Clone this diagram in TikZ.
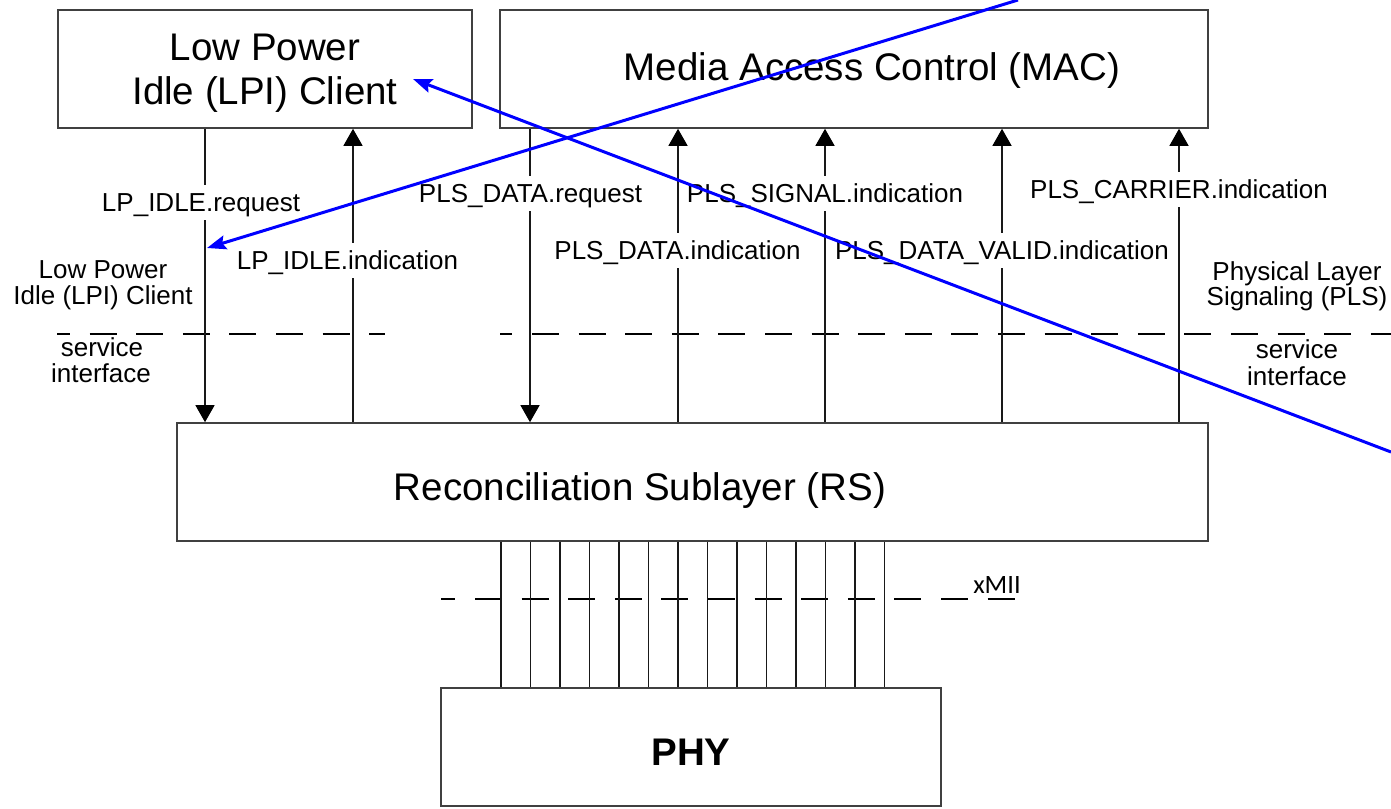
\documentclass[tikz,border=0pt]{standalone}
\usepackage{fontspec}
\setmainfont{Liberation Sans}
\newfontfamily\calfont{Carlito}
\usetikzlibrary{arrows.meta}
\begin{document}
\begin{tikzpicture}[x=1pt,y=-1pt,
  box/.style={draw=black!75,line width=1.6pt,rectangle,inner sep=0pt,minimum height=118pt},
  boxtext/.style={font=\fontsize{38.5}{44}\selectfont,align=center,inner sep=0pt},
  sig/.style={line width=1.3pt,draw=black!90},
  upsig/.style={sig,-{Triangle[width=19pt,length=17pt,color=black]}},
  downsig/.style={sig,-{Triangle[width=19pt,length=17pt,color=black]}},
  lbl/.style={font=\fontsize{26}{26.5}\selectfont,fill=white,inner xsep=3pt,inner ysep=2pt,text height=24pt,text depth=7pt,anchor=base},
  side/.style={font=\fontsize{26}{26.5}\selectfont,inner sep=0pt,anchor=base},
  ifline/.style={line width=1.3pt,black,dash pattern=on 27pt off 19.6pt},
  bluearrow/.style={draw={rgb,255:red,0;green,0;blue,255},line width=3pt,-{Stealth[length=19pt,width=14pt,inset=3pt]}}
]
\useasboundingbox (0,0) rectangle (1391,808);

% boxes
\node[box,minimum width=414pt,label={[boxtext,yshift=-4.5pt]center:Low Power\\Idle (LPI) Client}] (lpi) at (265,69) {};
\node[box,minimum width=708pt,label={[boxtext,xshift=18pt,yshift=-1.5pt]center:Media Access Control (MAC)}] (mac) at (854,69) {};
\node[box,minimum width=1031pt,label={[boxtext,xshift=-52.5pt,yshift=-9pt]center:Reconciliation Sublayer (RS)}] (rs) at (692.5,482) {};
\node[box,minimum width=500pt,label={[boxtext,font=\fontsize{38.5}{44}\selectfont\bfseries,yshift=-5pt]center:PHY}] (phy) at (691,747) {};

% service interface dashed lines
\draw[ifline,dash phase=14pt] (57,334) coordinate (dl1) -- (385,334) coordinate (dl2);
\draw[ifline,dash phase=14.6pt] (500,334) coordinate (dr1) -- (1391,334) coordinate (dr2);
\draw[ifline,dash phase=12.6pt] (441,599) coordinate (dx1) -- (1033,599) coordinate (dx2);

% x positions of the primitives
\coordinate (x1) at (205,0);
\coordinate (x2) at (353,0);
\coordinate (x3) at (530,0);
\coordinate (x4) at (678,0);
\coordinate (x5) at (825,0);
\coordinate (x6) at (1002,0);
\coordinate (x7) at (1179,0);

\draw[downsig] (lpi.south -| x1) -- (rs.north -| x1);
\draw[upsig] (rs.north -| x2) -- (lpi.south -| x2);
\draw[downsig] (mac.south -| x3) -- (rs.north -| x3);
\draw[upsig] (rs.north -| x4) -- (mac.south -| x4);
\draw[upsig] (rs.north -| x5) -- (mac.south -| x5);
\draw[upsig] (rs.north -| x6) -- (mac.south -| x6);
\draw[upsig] (rs.north -| x7) -- (mac.south -| x7);

% xMII bus
\foreach \i in {0,...,13}{
  \coordinate (bx\i) at ({501+29.5*\i},0);
  \draw[sig] (rs.south -| bx\i) -- (phy.north -| bx\i);
}

% primitive labels
\node[lbl] (l1) at (201,211) {LP\_IDLE.request};
\node[lbl] (l2) at (347.5,269) {LP\_IDLE.indication};
\node[lbl] (l3) at (530.5,202) {PLS\_DATA.request};
\node[lbl] (l4) at (677.5,259) {PLS\_DATA.indication};
\node[lbl] (l5) at (825,202) {PLS\_SIGNAL.indication};
\node[lbl] (l6) at (1002,259) {PLS\_DATA\_VALID.indication};
\node[lbl] (l7) at (1179,198) {PLS\_CARRIER.indication};

% side labels
\node[side] (s1) at (103,278) {Low Power};
\node[side] (s2) at (103,304) {Idle (LPI) Client};
\node[side] (s3) at (102,356) {service};
\node[side] (s4) at (101,382) {interface};
\node[side] (s5) at (1297,280) {Physical Layer};
\node[side] (s6) at (1297,305) {Signaling (PLS)};
\node[side] (s7) at (1297,358) {service};
\node[side] (s8) at (1297,385) {interface};
\node[side,font=\calfont\fontsize{26.5}{26.5}\selectfont] (xmii) at (997,593) {xMII};

% blue annotation arrows
\coordinate (b1s) at (1018,0);
\coordinate (b1e) at (207,248);
\coordinate (b2s) at (1391,452);
\coordinate (b2e) at (413,79);
\draw[bluearrow] (b1s) -- (b1e);
\draw[bluearrow] (b2s) -- (b2e);
\end{tikzpicture}
\end{document}
